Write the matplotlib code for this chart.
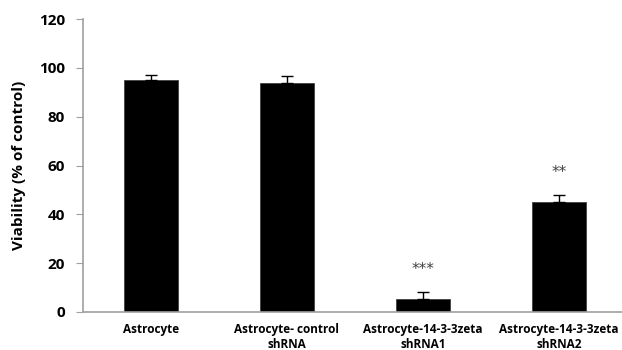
import matplotlib.pyplot as plt

labels = ['Astrocyte', 'Astrocyte- control\nshRNA', 'Astrocyte-14-3-3zeta\nshRNA1', 'Astrocyte-14-3-3zeta\nshRNA2']
viability = [95, 94, 5.2, 45]
err = [2, 2.5, 3, 3]
stars = ['', '', '***', '**']
star_y = [0, 0, 17.5, 57]

plt.rcParams['font.family'] = ['Open Sans', 'DejaVu Sans']

fig = plt.figure(figsize=(6.22, 3.5), dpi=100)
ax = fig.add_axes([0.1334, 0.1086, 0.8746, 0.837])

x = range(len(labels))
ax.bar(x, viability, width=0.4, color='black', edgecolor='#404040', linewidth=0.6,
       yerr=[[0] * len(err), err], error_kw=dict(ecolor='black', elinewidth=1, capsize=4, capthick=1))

for i, s in enumerate(stars):
    if s:
        ax.text(i, star_y[i], s, ha='center', va='center', fontsize=11,
                color='#404040', family='DejaVu Sans')

ax.set_xlim(-0.5, 3.5)
ax.set_ylim(0, 120)
ax.set_yticks(range(0, 121, 20))
ax.set_xticks(list(x))
ax.set_xticklabels(labels, fontsize=8.5, fontweight='bold', linespacing=1.15)
ax.tick_params(axis='x', length=0, pad=8)
ax.tick_params(axis='y', length=5, color='#a0a0a0', labelsize=11, pad=8)
for t in ax.get_yticklabels():
    t.set_fontweight('bold')
ax.set_ylabel('Viability (% of control)', fontsize=11, fontweight='bold', labelpad=9)

for side in ['top', 'right']:
    ax.spines[side].set_visible(False)
for side in ['left', 'bottom']:
    ax.spines[side].set_color('#a0a0a0')
    ax.spines[side].set_linewidth(1.2)

fig.savefig('out.png', dpi=100)
